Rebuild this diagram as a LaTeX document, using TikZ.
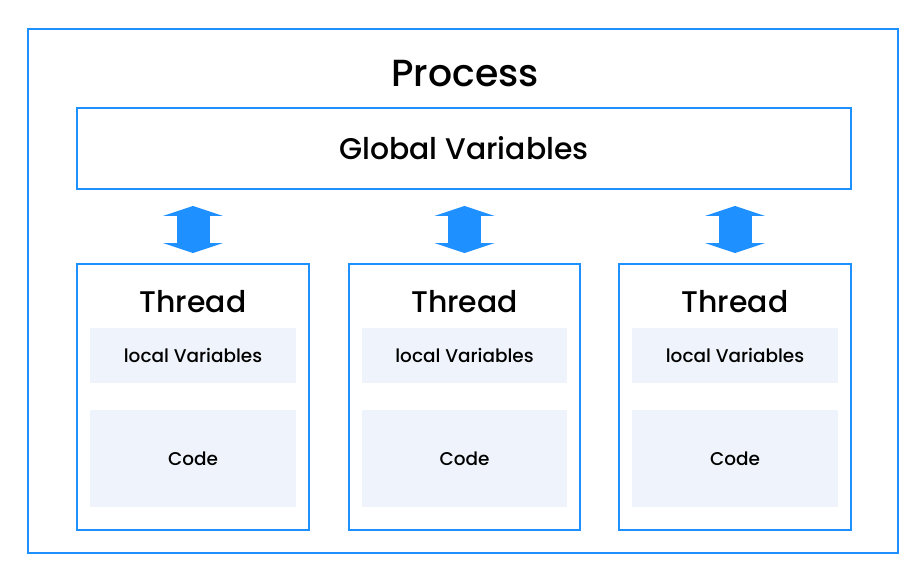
\documentclass[tikz,border=0pt]{standalone}
\usepackage{fontspec}
\setmainfont{Poppins Medium}
\usetikzlibrary{arrows.meta}

\definecolor{procblue}{HTML}{1E90FF}
\definecolor{cellfill}{HTML}{EFF4FC}

\tikzset{
	box/.style={draw=procblue, line width=0.04cm, fill=white},
	cell/.style={fill=cellfill, minimum width=4.12cm, font=\fontsize{10.5}{12}\selectfont},
	title/.style={font=\fontsize{17}{20}\selectfont},
	updown/.style={draw=procblue, line width=0.66cm, {Triangle[length=0.2cm, width=1.2cm]}-{Triangle[length=0.2cm, width=1.2cm]}}
}

\begin{document}
\begin{tikzpicture}[x=0.02cm, y=-0.02cm]
				
				\useasboundingbox (0,0) rectangle (922,574);
				
				\node[box, minimum width=17.4cm, minimum height=10.48cm] (process) at (463,291) {};
				
				\node[font=\fontsize{21.5}{24}\selectfont] (proctitle) at (465,74) {Process};
				
				\node[box, title, minimum width=15.48cm, minimum height=1.62cm] (global) at (464,148.5) {Global Variables};
				
				\foreach \x/\n in {193/1, 464.5/2, 735/3} {
					\node[box, minimum width=4.64cm, minimum height=5.32cm] (thread\n) at (\x,397) {};
					\node[title] (threadtitle\n) at (\x,302) {Thread};
					\node[cell, minimum height=1.1cm] (local\n) at (\x,355.5) {local Variables};
					\node[cell, minimum height=1.94cm, text depth=0pt] (code\n) at (\x,458.5) {Code};
					\draw[updown] ([yshift=-0.32cm]global.south -| thread\n.north) -- ([yshift=0.2cm]thread\n.north);
				}
				
				\end{tikzpicture}
\end{document}
